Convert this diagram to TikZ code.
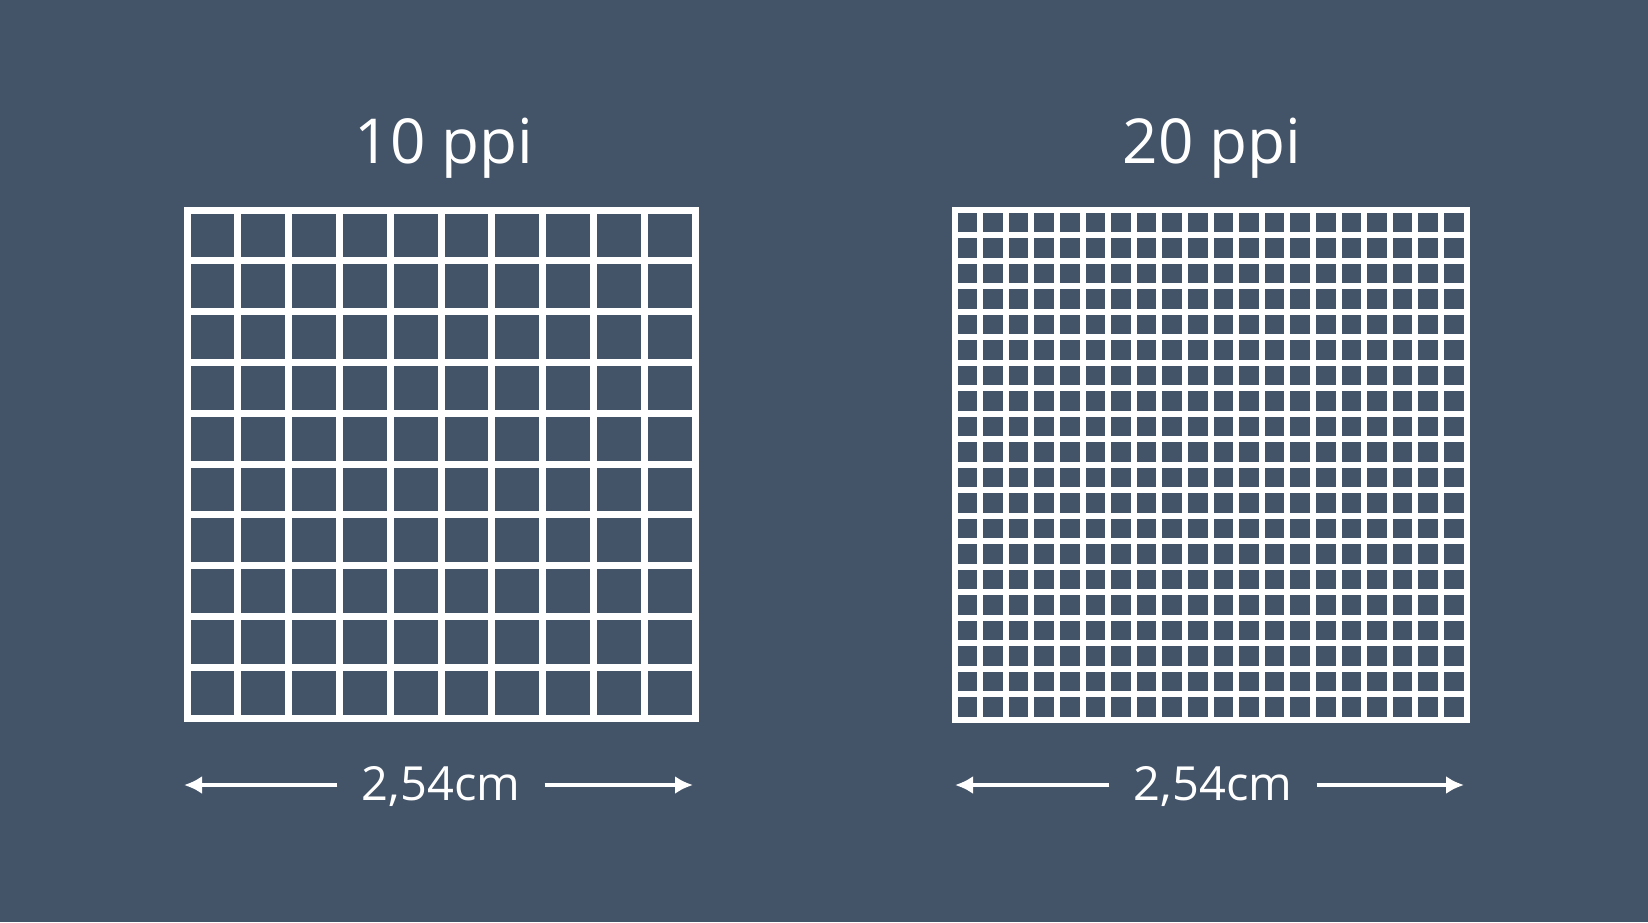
\documentclass[tikz,border=0pt]{standalone}
\usepackage{fontspec}
\setmainfont{Open Sans}
\usetikzlibrary{arrows.meta}
\definecolor{slate}{RGB}{67,83,104}
\tikzset{
  ppilabel/.style={text=white, font=\fontsize{31}{36}\selectfont, anchor=base, inner sep=0pt},
  sizelabel/.style={text=white, font=\fontsize{23.5}{28}\selectfont, anchor=base, inner xsep=12pt, inner ysep=0pt},
  gridline/.style={white, line width=#1, line cap=rect},
  dimarrow/.style={white, line width=2.2pt, -{Latex[length=9pt,width=9pt]}}
}
\begin{document}
\begin{tikzpicture}[x=0.5pt,y=-0.5pt]
\fill[slate] (0,0) rectangle (1648,922);
\useasboundingbox (0,0) rectangle (1648,922);
% 10 ppi
\begin{scope}
\node (t10) [ppilabel] at (444,163) {10 ppi};
\foreach \i in {0,...,10} {
  \draw[gridline=3.5pt] ({187+50.8*\i},210) -- ({187+50.8*\i},718);
  \draw[gridline=3.5pt] (187,{210+50.8*\i}) -- (695,{210+50.8*\i});
}
\node (w10) [sizelabel] at (441,800) {2,54cm};
\coordinate (a10l) at (184,785);
\coordinate (a10r) at (693,785);
\draw[dimarrow] (w10.west |- a10l) -- (a10l);
\draw[dimarrow] (w10.east |- a10r) -- (a10r);
\end{scope}
% 20 ppi
\begin{scope}
\node (t20) [ppilabel] at (1212,163) {20 ppi};
\foreach \i in {0,...,20} {
  \draw[gridline=3pt] ({954.5+25.6*\i},209.5) -- ({954.5+25.6*\i},720);
  \draw[gridline=3pt] (954.5,{209.5+25.525*\i}) -- (1466.5,{209.5+25.525*\i});
}
\node (w20) [sizelabel] at (1213,800) {2,54cm};
\coordinate (a20l) at (955,785);
\coordinate (a20r) at (1464,785);
\draw[dimarrow] (w20.west |- a20l) -- (a20l);
\draw[dimarrow] (w20.east |- a20r) -- (a20r);
\end{scope}
\end{tikzpicture}
\end{document}
